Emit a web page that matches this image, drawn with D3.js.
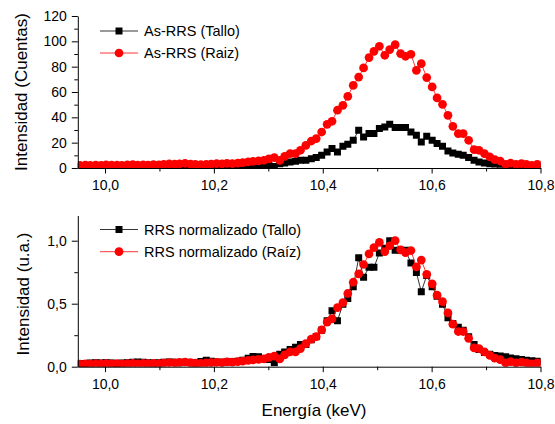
<!DOCTYPE html>
<html>
<head>
<meta charset="utf-8">
<script src="https://d3js.org/d3.v7.min.js"></script>
<style>
  body { margin: 0; background: #fff; }
  text { font-family: Arial, "Liberation Sans", sans-serif; }
</style>
</head>
<body>
<div id="chart"></div>
<script>
// channel energies (keV)
const energies = [
  9.954, 9.964, 9.973, 9.983, 9.993, 10.002, 10.012, 10.022, 10.031, 10.041,
  10.051, 10.060, 10.070, 10.079, 10.089, 10.099, 10.108, 10.118, 10.128, 10.137,
  10.147, 10.157, 10.166, 10.176, 10.186, 10.195, 10.205, 10.215, 10.224, 10.234,
  10.244, 10.253, 10.263, 10.272, 10.282, 10.292, 10.301, 10.311, 10.321, 10.330,
  10.340, 10.350, 10.359, 10.369, 10.379, 10.388, 10.398, 10.408, 10.417, 10.427,
  10.437, 10.446, 10.456, 10.466, 10.475, 10.485, 10.494, 10.504, 10.514, 10.523,
  10.533, 10.543, 10.552, 10.562, 10.572, 10.581, 10.591, 10.601, 10.610, 10.620,
  10.630, 10.639, 10.649, 10.658, 10.668, 10.678, 10.687, 10.697, 10.707, 10.716,
  10.726, 10.736, 10.745, 10.755, 10.765, 10.774, 10.784, 10.794, 10.803
];

// As-RRS counts, stem (Tallo)
const talloCounts = [
  0.8, 0.9, 1.0, 1.1, 1.0, 1.1, 1.0, 0.9, 1.0, 1.1,
  1.2, 1.3, 1.2, 1.1, 1.0, 1.1, 1.2, 1.3, 1.2, 1.1,
  1.2, 1.1, 1.0, 1.4, 1.8, 1.5, 1.3, 1.2, 1.3, 1.4,
  1.5, 1.8, 2.3, 2.8, 2.7, 2.2, 2.0, 1.1, 3.4, 4.0,
  4.7, 5.3, 6.1, 6.1, 7.4, 8.2, 10.0, 12.6, 15.3, 12.6,
  17.1, 18.7, 21.9, 29.8, 24.5, 27.2, 27.2, 31.1, 32.4, 34.5,
  31.9, 31.9, 31.9, 28.4, 25.8, 20.5, 25.0, 21.9, 19.3, 17.1,
  13.4, 11.8, 10.8, 10.0, 8.2, 6.1, 4.7, 3.9, 3.4, 3.1,
  2.9, 2.7, 2.4, 2.2, 2.0, 1.8, 1.6, 1.5, 1.4
];

// As-RRS counts, root (Raiz)
const raizCounts = [
  2.0, 2.2, 2.0, 2.3, 2.1, 2.4, 2.2, 2.3, 2.0, 2.4,
  2.6, 2.2, 2.5, 2.3, 2.6, 2.4, 2.8, 3.2, 3.0, 3.3,
  3.6, 3.1, 2.8, 2.6, 2.9, 3.1, 3.4, 3.2, 3.7, 3.5,
  3.9, 4.3, 4.8, 5.2, 5.6, 6.1, 7.2, 8.2, 6.0, 9.2,
  11.4, 11.4, 14.0, 17.9, 21.3, 23.2, 28.4, 34.5, 36.9, 45.6,
  49.5, 56.6, 65.3, 71.8, 79.0, 87.2, 92.1, 96.1, 89.0, 93.5,
  97.4, 90.3, 88.2, 89.8, 77.1, 82.4, 71.4, 64.0, 55.3, 50.3,
  41.6, 32.9, 27.2, 27.2, 21.9, 14.5, 14.0, 11.4, 8.7, 6.6,
  5.5, 2.9, 3.9, 2.9, 3.5, 2.9, 2.1, 2.9, 2.5
];

const xTicks = [10.0, 10.2, 10.4, 10.6, 10.8];
const xMinor = [10.1, 10.3, 10.5, 10.7];
const countTicks = [0, 20, 40, 60, 80, 100, 120];
const countMinor = [10, 30, 50, 70, 90, 110];
const normTicks = [0, 0.5, 1.0];
const normMinor = [0.25, 0.75];

const topLegend = ["As-RRS (Tallo)", "As-RRS (Raiz)"];
const bottomLegend = ["RRS normalizado (Tallo)", "RRS normalizado (Raíz)"];

const W = 555, H = 424;
const comma = f => d => d3.format(f)(d).replace(".", ",");

const svg = d3.select("#chart").append("svg")
  .attr("width", W).attr("height", H)
  .style("background", "#fff");

const x = d3.scaleLinear().domain([9.95, 10.8]).range([77.8, 540.5]);

// normalise each spectrum to its own maximum
const talloMax = d3.max(talloCounts), raizMax = d3.max(raizCounts);
const talloNorm = talloCounts.map(v => v / talloMax);
const raizNorm = raizCounts.map(v => v / raizMax);

const panels = [
  { top: 16, bottom: 168, domain: [0, 120], ticks: countTicks, minor: countMinor,
    fmt: d3.format("d"), title: "Intensidad (Cuentas)", titleX: 26.5, titleY: 92,
    series: [talloCounts, raizCounts], legend: topLegend, legendY: [31, 53], id: "p1" },
  { top: 215.5, bottom: 366.7, domain: [0, 1.2], ticks: normTicks, minor: normMinor,
    fmt: comma(".1f"), title: "Intensidad (u.a.)", titleX: 29, titleY: 294,
    series: [talloNorm, raizNorm], legend: bottomLegend, legendY: [229.5, 251.7], id: "p2" }
];

const styles = [
  { color: "#000", symbol: d3.symbolSquare, size: 49 },
  { color: "#ff0000", symbol: d3.symbolCircle, size: 60 }
];

panels.forEach(p => {
  const y = d3.scaleLinear().domain(p.domain).range([p.bottom, p.top]);

  svg.append("clipPath").attr("id", "clip-" + p.id)
    .append("rect")
    .attr("x", x.range()[0]).attr("y", p.top)
    .attr("width", x.range()[1] - x.range()[0]).attr("height", p.bottom - p.top);

  const plot = svg.append("g").attr("clip-path", `url(#clip-${p.id})`);

  p.series.forEach((vals, k) => {
    const st = styles[k];
    const pts = energies.map((e, i) => [e, vals[i]]);
    plot.append("path")
      .datum(pts)
      .attr("fill", "none")
      .attr("stroke", st.color)
      .attr("stroke-width", 0.8)
      .attr("d", d3.line().x(d => x(d[0])).y(d => y(d[1])));
    plot.selectAll(null)
      .data(pts)
      .join("path")
      .attr("transform", d => `translate(${x(d[0])},${y(d[1])})`)
      .attr("d", d3.symbol().type(st.symbol).size(st.size))
      .attr("fill", st.color);
  });

  // x axis
  const xa = svg.append("g").attr("transform", `translate(0,${p.bottom})`);
  xa.call(d3.axisBottom(x).tickValues(xTicks).tickFormat(comma(".1f"))
    .tickSize(5.5).tickSizeOuter(0).tickPadding(6.5));
  xa.append("g").call(d3.axisBottom(x).tickValues(xMinor).tickFormat("")
    .tickSize(3.5).tickSizeOuter(0))
    .select(".domain").remove();

  // y axis
  const ya = svg.append("g").attr("transform", `translate(${x.range()[0]},0)`);
  ya.call(d3.axisLeft(y).tickValues(p.ticks).tickFormat(p.fmt)
    .tickSize(6).tickSizeOuter(0).tickPadding(5));
  ya.append("g").call(d3.axisLeft(y).tickValues(p.minor).tickFormat("")
    .tickSize(3.5).tickSizeOuter(0))
    .select(".domain").remove();

  svg.selectAll(".tick text").attr("font-size", 14).attr("fill", "#000")
    .attr("font-family", "Arial, 'Liberation Sans', sans-serif");
  svg.selectAll(".domain, .tick line").attr("stroke", "#000");

  svg.append("text")
    .attr("transform", `translate(${p.titleX},${p.titleY}) rotate(-90)`)
    .attr("text-anchor", "middle")
    .attr("font-size", 17)
    .text(p.title);

  // legend
  p.legend.forEach((label, k) => {
    const st = styles[k];
    const ly = p.legendY[k];
    const g = svg.append("g");
    g.append("line")
      .attr("x1", 100).attr("x2", 138).attr("y1", ly).attr("y2", ly)
      .attr("stroke", st.color).attr("stroke-width", 0.8);
    g.append("path")
      .attr("transform", `translate(119,${ly})`)
      .attr("d", d3.symbol().type(st.symbol).size(st.size))
      .attr("fill", st.color);
    g.append("text")
      .attr("x", 144).attr("y", ly + 5.2)
      .attr("font-size", 14.5)
      .text(label);
  });
});

svg.append("text")
  .attr("x", 314).attr("y", 416)
  .attr("text-anchor", "middle")
  .attr("font-size", 17)
  .text("Energía (keV)");
</script>
</body>
</html>
